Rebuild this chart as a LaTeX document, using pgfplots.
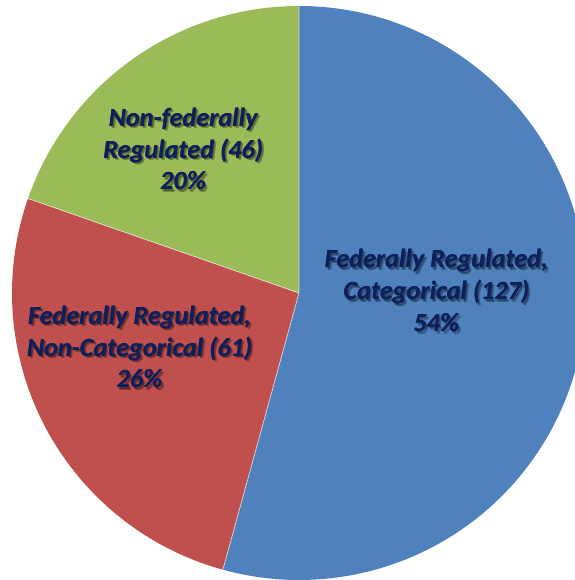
\documentclass[border=0pt]{standalone}
\usepackage{pgfplots}
\usepackage{pgfplotstable}
\pgfplotsset{compat=1.18}
\usepackage{fontspec}
\setmainfont{Carlito}

\definecolor{fedcat}{HTML}{4F81BD}
\definecolor{fednoncat}{HTML}{C0504D}
\definecolor{nonfed}{HTML}{9BBB59}
\definecolor{lbltext}{RGB}{14,32,92}

% slice counts, clockwise from 12 o'clock
\pgfplotstableread{
slice value
FedCat 127
FedNonCat 61
NonFed 46
}\piedata

\tikzset{
  lbl/.style={align=center, text=lbltext, inner sep=0pt,
    font={\fontsize{13}{15.8}\selectfont\bfseries\itshape}},
  lblshadow/.style={lbl, text=black, text opacity=0.28},
}
\newcommand\pielabel[3]{%
  \node[lblshadow, xshift=1.3pt, yshift=-1.4pt] at (axis cs:#1,#2) {#3};
  \node[lblshadow, xshift=0.7pt, yshift=-0.8pt] at (axis cs:#1,#2) {#3};
  \node[lbl, xshift=0.15pt] at (axis cs:#1,#2) {#3};
  \node[lbl] at (axis cs:#1,#2) {#3};}

\begin{document}
\begin{tikzpicture}
\pgfplotstablegetelem{0}{value}\of\piedata \let\va\pgfplotsretval
\pgfplotstablegetelem{1}{value}\of\piedata \let\vb\pgfplotsretval
\pgfplotstablegetelem{2}{value}\of\piedata \let\vc\pgfplotsretval
\pgfmathsetmacro\tot{\va+\vb+\vc}
\pgfmathsetmacro\aA{90-360*(\va/\tot)}
\pgfmathsetmacro\aB{\aA-360*(\vb/\tot)}
\begin{axis}[
    hide axis,
    scale only axis,
    x=5cm, y=5cm,
    xmin=-1.0418, xmax=0.9617,
    ymin=-1.0, ymax=1.0209,
    clip=true,
  ]
  \fill[fedcat] (axis cs:0,0) -- (axis cs:0,1)
    arc[start angle=90, end angle=\aA, radius=5cm] -- cycle;
  \fill[fednoncat] (axis cs:0,0) -- (axis cs:{cos(\aA)},{sin(\aA)})
    arc[start angle=\aA, end angle=\aB, radius=5cm] -- cycle;
  \fill[nonfed] (axis cs:0,0) -- (axis cs:{cos(\aB)},{sin(\aB)})
    arc[start angle=\aB, end angle=-270, radius=5cm] -- cycle;
  % thin light separators
  \draw[white, opacity=0.6, line width=0.4pt] (axis cs:0,1) -- (axis cs:0,0)
    -- (axis cs:{cos(\aA)},{sin(\aA)});
  \draw[white, opacity=0.6, line width=0.4pt] (axis cs:0,0)
    -- (axis cs:{cos(\aB)},{sin(\aB)});

  \pielabel{0.478}{0.009}{Federally Regulated,\\Categorical (127)\\54\%}
  \pielabel{-0.404}{0.502}{Non-federally\\Regulated (46)\\20\%}
  \pielabel{-0.556}{-0.188}{Federally Regulated,\\Non-Categorical (61)\\26\%}
\end{axis}
\pgfresetboundingbox
\path (current axis.south west) rectangle (current axis.north east);
\end{tikzpicture}
\end{document}
